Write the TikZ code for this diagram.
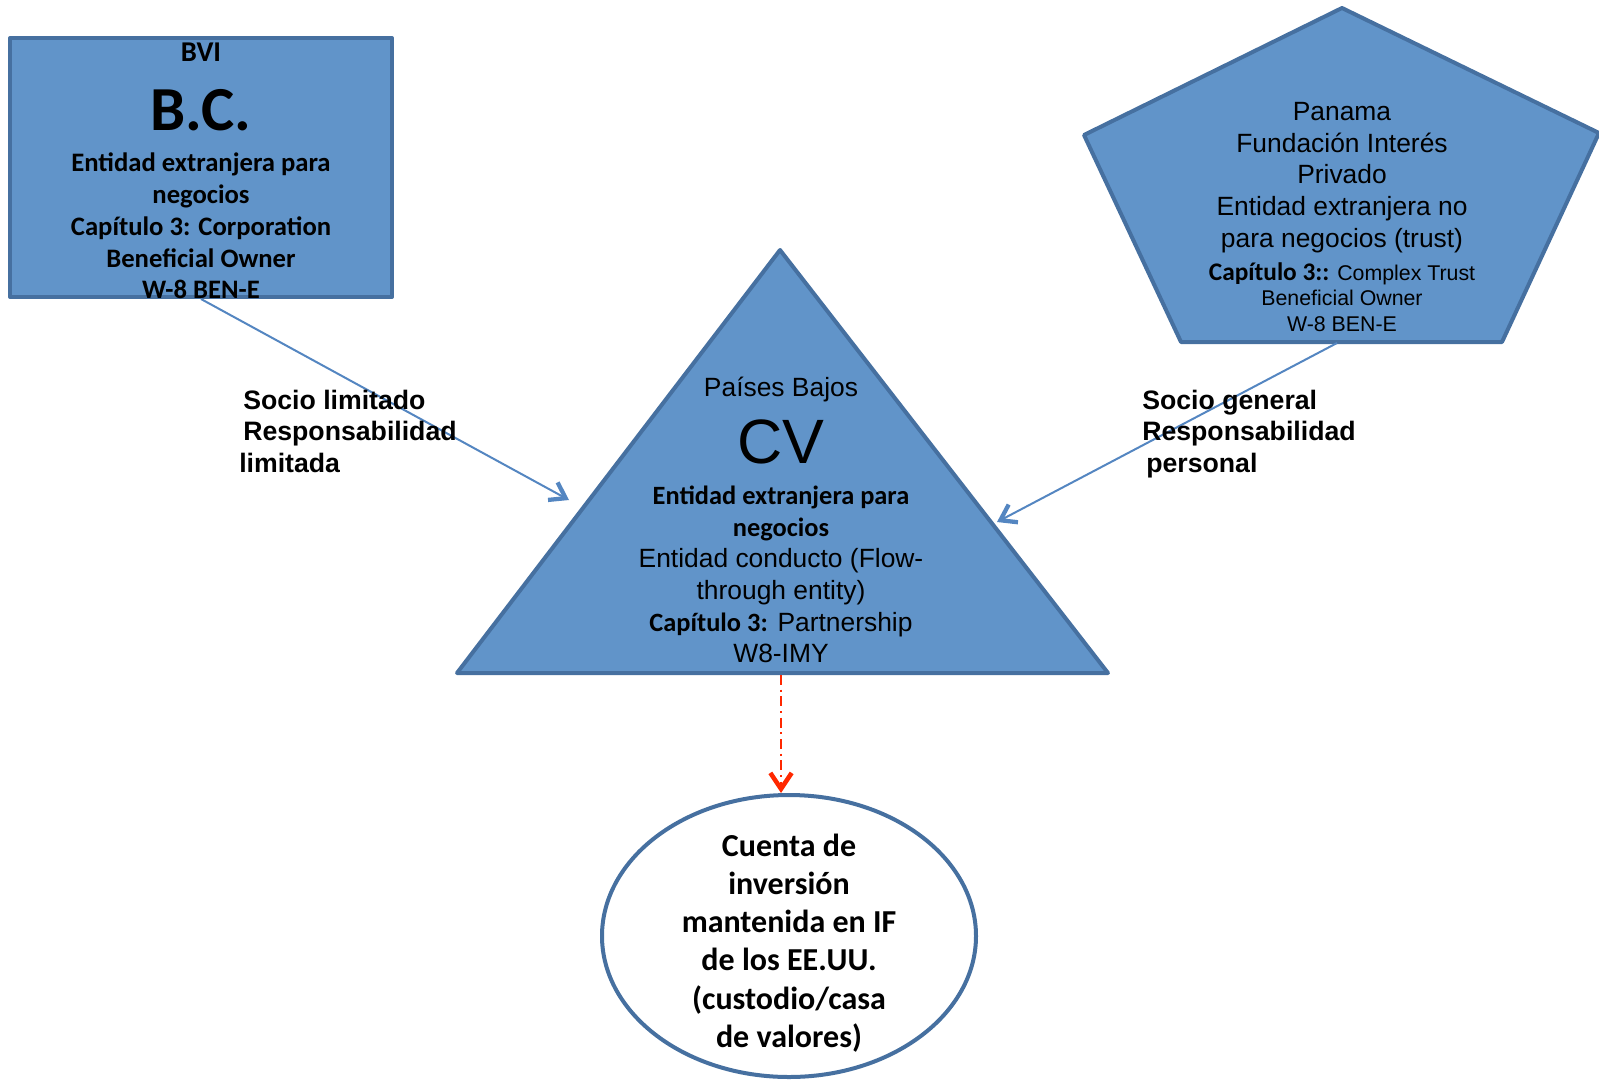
\documentclass[tikz,border=0pt]{standalone}
\usepackage{fontspec}
\setmainfont{Liberation Sans}
\newfontfamily\calibri{Carlito}
\usetikzlibrary{arrows.meta}
\usetikzlibrary{shapes.geometric}

\definecolor{entfill}{RGB}{97,148,201}
\definecolor{entline}{RGB}{70,112,160}
\definecolor{linkblue}{RGB}{84,134,193}
\definecolor{flowred}{RGB}{255,40,0}

\newcommand{\cbold}{\calibri\bfseries}

\begin{document}
\begin{tikzpicture}[x=0.75pt, y=-0.75pt,
    entity/.style={draw=entline, fill=entfill, line width=3pt, line join=round},
    arialtxt/.style={inner sep=0pt, align=center, font=\fontsize{19.8}{23.8}\selectfont},
    calibtxt/.style={inner sep=0pt, align=center, font=\cbold\fontsize{20}{23.8}\selectfont},
    roletxt/.style={inner sep=0pt, align=left, anchor=north west, font=\bfseries\fontsize{20}{23.8}\selectfont},
    link/.style={draw=linkblue, line width=1.5pt, -{Straight Barb[length=11pt, width=15pt, line width=3.2pt]}},
    flow/.style={draw=flowred, line width=1.5pt, dash pattern=on 7.5pt off 3.5pt on 1.5pt off 3.5pt,
        -{Straight Barb[length=12pt, width=16pt, line width=3.4pt]}}]
    \useasboundingbox (0,0) rectangle (1599,1079);

    % BVI company
    \node [entity, rectangle, inner sep=0pt, minimum width=286.5pt, minimum height=194.25pt] (bc) at (201,167.5) {};
    \node [calibtxt, font=\cbold\fontsize{21.5}{23.8}\selectfont] (bc-place) at (201,52) {BVI};
    \node [calibtxt, font=\cbold\fontsize{47}{47}\selectfont] (bc-name) at (201,110) {B.C.};
    \node [calibtxt] (bc-desc) at (201,226) {Entidad extranjera para\\negocios\\Capítulo 3: Corporation\\Beneficial Owner\\W-8 BEN-E};

    % Panama foundation
    \draw [entity] (1342,8) -- (1599,133) -- (1502,342) -- (1181,342) -- (1084,135) -- cycle;
    \coordinate (pf-base) at (1337,343);
    \node [arialtxt] (pf-desc) at (1342,177.5) {Panama\\Fundación Interés\\Privado\\Entidad extranjera no\\para negocios (trust)};
    \node [arialtxt, font=\fontsize{16}{19}\selectfont] (pf-chapter) at (1342,297)
        {{\cbold\fontsize{19}{19}\selectfont Capítulo 3::} Complex Trust\\Beneficial Owner\\W-8 BEN-E};

    % Netherlands CV
    \draw [entity] (780,250) -- (1108,673) -- (457,673) -- cycle;
    \coordinate (cv-left) at (569,500);
    \coordinate (cv-right) at (997,522);
    \coordinate (cv-base) at (781,675);
    \node [arialtxt] (cv-place) at (781,390) {Países Bajos};
    \node [arialtxt, font=\fontsize{47}{47}\selectfont] (cv-name) at (781,442) {CV};
    \node [arialtxt] (cv-desc) at (781,574.5) {{\cbold Entidad extranjera para}\\{\cbold negocios}\\Entidad conducto (Flow-\\through entity)\\{\cbold Capítulo 3:} Partnership\\W8-IMY};

    % US account
    \node [ellipse, draw=entline, line width=3pt, fill=white, inner sep=0pt, minimum width=280.5pt, minimum height=211.5pt] (acct) at (789,936) {};
    \node [calibtxt, font=\cbold\fontsize{24}{28.7}\selectfont] (acct-desc) at (789,943)
        {Cuenta de\\inversión\\mantenida en IF\\de los EE.UU.\\(custodio/casa\\de valores)};

    % links
    \draw [link] (bc.south) -- (cv-left);
    \draw [link] (pf-base) -- (cv-right);
    \draw [flow] (cv-base) -- (cv-base |- acct.north);

    \node [roletxt] (lp-role) at (243,389.6) {Socio limitado\\Responsabilidad\\\hspace*{-3pt}limitada};
    \node [roletxt] (gp-role) at (1142,389.6) {Socio general\\Responsabilidad\\\hspace*{3pt}personal};
\end{tikzpicture}
\end{document}
